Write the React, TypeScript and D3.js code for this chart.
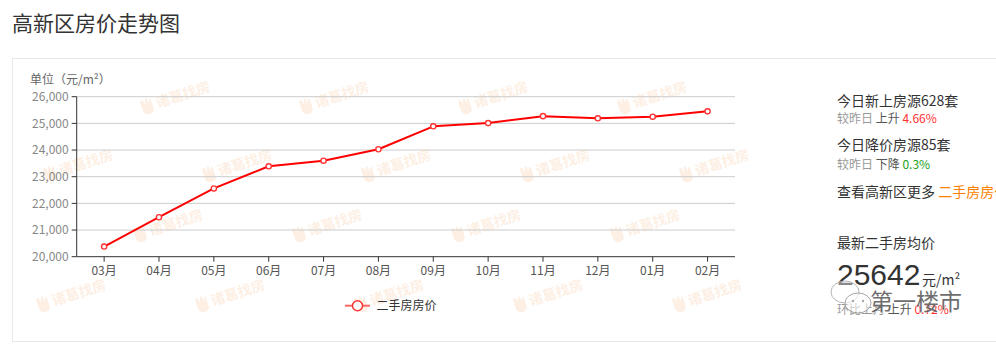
import React from "react";
import * as d3 from "d3";

const months = ["03月", "04月", "05月", "06月", "07月", "08月", "09月", "10月", "11月", "12月", "01月", "02月"];
const prices = [20380, 21480, 22560, 23390, 23600, 24030, 24890, 25010, 25270, 25190, 25250, 25450];
const yTicks = [20000, 21000, 22000, 23000, 24000, 25000, 26000];
const seriesName = "二手房房价";

const W = 996;
const H = 346;
const FONT = "'Noto Sans CJK SC', 'Noto Sans', sans-serif";

function Watermark({ x, y }: { x: number; y: number }) {
  return (
    <g transform={`translate(${x},${y}) rotate(-18)`} opacity={0.15}>
      <path
        d="M0,-6 Q1,-9 3,-7 L4,-2 Q5,-9 7,-8 L8,-2 Q9,-8 11,-6 L11,3 Q11,8 6,8 Q1,8 0,3 Z"
        fill="#f39a4a"
      />
      <text x={15} y={5} fontSize={14} fontWeight="bold" fill="#f39a4a" fontFamily={FONT}>
        诸葛找房
      </text>
    </g>
  );
}

export default function App() {
  const left = 76.7;
  const right = 735;
  const top = 96.7;
  const bottom = 256.7;
  const x = d3.scalePoint<string>().domain(months).range([left, right]).padding(0.5);
  const y = d3.scaleLinear().domain([20000, 26000]).range([bottom, top]);
  const line = d3
    .line<number>()
    .x((_, i) => x(months[i]) as number)
    .y((d) => y(d));
  const fmt = d3.format(",");

  const wmRows: { y: number; x0: number }[] = [
    { y: 108, x0: 142 },
    { y: 176, x0: 45 },
    { y: 236, x0: 135 },
    { y: 306, x0: 38 },
  ];
  const wms: { x: number; y: number }[] = [];
  wmRows.forEach((r) => {
    for (let k = 0; k < 5; k++) {
      const xx = r.x0 + k * 159;
      if (xx < 700) wms.push({ x: xx, y: r.y });
    }
  });

  return (
    <svg
      width={W}
      height={H}
      style={{ position: "absolute", left: 0, top: 0, background: "#fff" }}
      fontFamily={FONT}
    >
      <rect x={0} y={0} width={W} height={H} fill="#fff" />
      <text x={12} y={31} fontSize={21} fill="#333">
        高新区房价走势图
      </text>
      <rect x={12.5} y={58.5} width={1000} height={283} fill="none" stroke="#e8e8e8" />

      {wms.map((w, i) => (
        <Watermark key={i} x={w.x} y={w.y} />
      ))}

      <text x={30} y={84} fontSize={12} fill="#666">
        单位（元/m²）
      </text>

      {yTicks.map((t) => (
        <g key={t}>
          {t !== 20000 && (
            <line x1={left} x2={right} y1={y(t)} y2={y(t)} stroke="#ccc" strokeWidth={1} />
          )}
          <line x1={left - 5} x2={left} y1={y(t)} y2={y(t)} stroke="#333" />
          <text x={left - 8} y={y(t)} dy="0.35em" textAnchor="end" fontSize={12} fill="#888">
            {fmt(t)}
          </text>
        </g>
      ))}
      <line x1={left} x2={left} y1={top} y2={bottom} stroke="#333" />
      <line x1={left} x2={right} y1={bottom} y2={bottom} stroke="#333" />
      {months.map((m) => (
        <g key={m}>
          <line x1={x(m)} x2={x(m)} y1={bottom} y2={bottom + 5} stroke="#333" />
          <text x={x(m)} y={bottom + 14} dy="0.35em" textAnchor="middle" fontSize={12} fill="#555">
            {m}
          </text>
        </g>
      ))}

      <path d={line(prices) || ""} fill="none" stroke="#f00" strokeWidth={2} strokeLinejoin="round" />
      {prices.map((p, i) => (
        <circle key={i} cx={x(months[i])} cy={y(p)} r={2.6} fill="#fff" stroke="#f33" strokeWidth={1.4} />
      ))}

      <line x1={345} x2={370} y1={305.7} y2={305.7} stroke="#f66" strokeWidth={2} />
      <circle cx={357.5} cy={305.7} r={5} fill="#fff" stroke="#f33" strokeWidth={1.5} />
      <text x={376.5} y={305.7} dy="0.35em" fontSize={12} fill="#333">
        {seriesName}
      </text>

      <text x={837} y={100.7} dy="0.35em" fontSize={14} fill="#333">
        今日新上房源628套
      </text>
      <text x={837} y={119} dy="0.35em" fontSize={12} fill="#999">
        较昨日 <tspan fill="#555">上升</tspan> <tspan fill="#f33">4.66%</tspan>
      </text>
      <text x={837} y={145} dy="0.35em" fontSize={14} fill="#333">
        今日降价房源85套
      </text>
      <text x={837} y={165} dy="0.35em" fontSize={12} fill="#999">
        较昨日 <tspan fill="#555">下降</tspan> <tspan fill="#1aa01a">0.3%</tspan>
      </text>
      <text x={837} y={191.7} dy="0.35em" fontSize={14} fill="#333">
        查看高新区更多 <tspan fill="#ff7f00">二手房房价</tspan>
      </text>
      <text x={837} y={243} dy="0.35em" fontSize={14} fill="#333">
        最新二手房均价
      </text>
      <text x={837} y={285} fontSize={30} fill="#333" fontFamily="'Liberation Sans', Arial, sans-serif">
        25642
      </text>
      <text x={922} y={285} fontSize={14} fill="#333">
        元/m²
      </text>
      <text x={837} y={310} dy="0.35em" fontSize={12} fill="#999">
        环比上月 <tspan fill="#555">上升</tspan> <tspan fill="#f33">0.72%</tspan>
      </text>

      <g opacity={0.85}>
        <ellipse cx={845} cy={292} rx={14} ry={11} fill="rgba(255,255,255,0.5)" stroke="#aaa" strokeWidth={1} />
        <ellipse cx={858} cy={303} rx={13} ry={10} fill="rgba(255,255,255,0.6)" stroke="#999" strokeWidth={1} />
        <circle cx={853} cy={301} r={1.2} fill="#999" />
        <circle cx={863} cy={301} r={1.2} fill="#999" />
        <text
          x={870}
          y={302}
          dy="0.35em"
          fontSize={23}
          fill="#555"
          stroke="#fff"
          strokeWidth={0.8}
          paintOrder="stroke"
        >
          第一楼市
        </text>
      </g>
    </svg>
  );
}
